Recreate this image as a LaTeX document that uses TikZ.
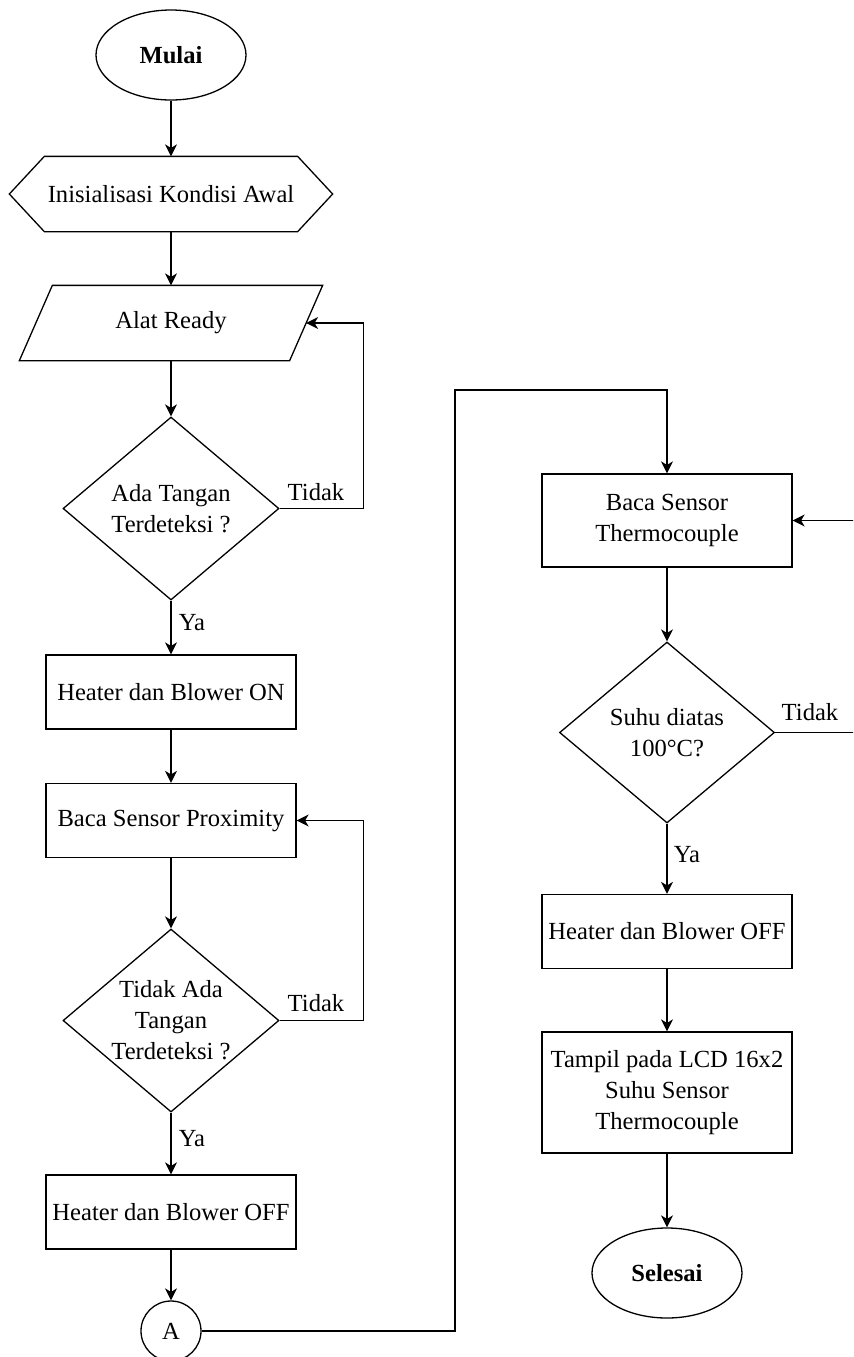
\documentclass[tikz,border=0pt]{standalone}
\usepackage{fontspec}
\setmainfont{Liberation Serif}
\usetikzlibrary{shapes.geometric,arrows.meta}

\tikzset{
  proses/.style={draw, rectangle, minimum width=125pt, minimum height=37pt, inner sep=0pt, align=center},
  keputusan/.style={draw, diamond, aspect=1.18, minimum width=108pt, minimum height=91.5pt, inner sep=0pt, align=center},
  terminal/.style={draw, ellipse, minimum width=75pt, minimum height=45pt, font=\fontsize{12.3}{15.5}\selectfont\bfseries},
  konektor/.style={draw, circle, minimum size=30pt, inner sep=0pt},
  ket/.style={inner sep=0pt},
  panah/.style={-{Stealth[length=6pt,width=6pt,inset=1.8pt]}},
}

\begin{document}
\begin{tikzpicture}[x=0.5pt, y=-0.5pt, line width=0.65pt,
    every node/.style={font=\fontsize{12.3}{15.5}\selectfont}]
    \useasboundingbox (0,0) rectangle (853,1357);
    \clip (0,0) rectangle (853,1357);

    \node[terminal] (mulai) at (171,55) {Mulai};
    \node[minimum width=161pt, minimum height=37pt, inner sep=0pt] (init) at (171,194) {Inisialisasi Kondisi Awal};
    \draw (init.west) -- ([xshift=17.5pt]init.north west) -- ([xshift=-17.5pt]init.north east)
        -- (init.east) -- ([xshift=-17.5pt]init.south east) -- ([xshift=17.5pt]init.south west) -- cycle;
    \node[minimum width=151pt, minimum height=37pt, inner sep=0pt] (ready) at (171,323) {Alat Ready};
    \draw ([xshift=16.5pt]ready.north west) -- (ready.north east)
        -- ([xshift=-16.5pt]ready.south east) -- (ready.south west) -- cycle;
    \coordinate (readyin) at ([xshift=-8.25pt]ready.east);
    \node[keputusan] (cek1) at (171,508.5) {Ada Tangan\\Terdeteksi ?};
    \node[proses] (heaton) at (171,692) {Heater dan Blower ON};
    \node[proses] (proxi) at (171,820.5) {Baca Sensor Proximity};
    \node[keputusan] (cek2) at (171,1020.5) {Tidak Ada\\Tangan\\Terdeteksi ?};
    \node[proses] (heatoff) at (171,1212) {Heater dan Blower OFF};
    \node[konektor] (A) at (171,1331) {A};

    \node[proses, minimum height=46.5pt] (thermo) at (667,520.5) {Baca Sensor\\Thermocouple};
    \node[keputusan, minimum width=107.5pt, minimum height=90.5pt] (cek3) at (667,732.5) {Suhu diatas\\100°C?};
    \node[proses] (heatoff2) at (667,931.5) {Heater dan Blower OFF};
    \node[proses, minimum height=60.5pt] (tampil) at (667,1092.5) {Tampil pada LCD 16x2\\Suhu Sensor\\Thermocouple};
    \node[terminal] (selesai) at (667,1273) {Selesai};

    \node[ket] (tdk1) at (316,492) {Tidak};
    \node[ket] (tdk2) at (316,1003) {Tidak};
    \node[ket] (tdk3) at (810,712) {Tidak};
    \node[ket] (ya1) at (192,623) {Ya};
    \node[ket] (ya2) at (192,1139) {Ya};
    \node[ket] (ya3) at (687,855) {Ya};

    \coordinate (belok) at (455,390);
    \coordinate (kanan) at (880,732.5);

    \draw[panah] (mulai) -- (init);
    \draw[panah] (init) -- (ready);
    \draw[panah] (ready) -- (cek1);
    \draw[panah] (cek1) -- (heaton);
    \draw[panah] (cek1.east) -- ++(84,0) |- (readyin);
    \draw[panah] (heaton) -- (proxi);
    \draw[panah] (proxi) -- (cek2);
    \draw[panah] (cek2.east) -- ++(84,0) |- (proxi.east);
    \draw[panah] (cek2) -- (heatoff);
    \draw[panah] (heatoff) -- (A);
    \draw[panah] (A.east) -| (belok) -| (thermo.north);
    \draw[panah] (thermo) -- (cek3);
    \draw[panah] (cek3.east) -- (kanan) |- (thermo.east);
    \draw[panah] (cek3) -- (heatoff2);
    \draw[panah] (heatoff2) -- (tampil);
    \draw[panah] (tampil) -- (selesai);
\end{tikzpicture}
\end{document}
